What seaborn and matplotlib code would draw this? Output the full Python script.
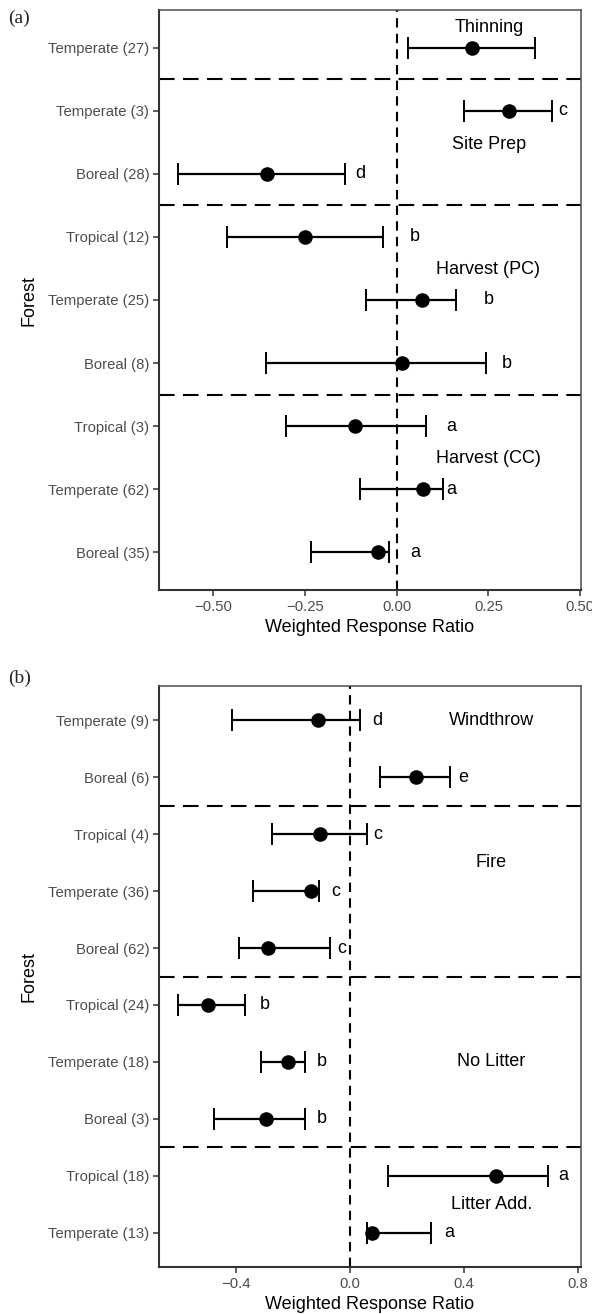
import numpy as np
import pandas as pd
import matplotlib
matplotlib.use("Agg")
import matplotlib.pyplot as plt
import seaborn as sns

sns.set_theme(style="white")
plt.rcParams["font.family"] = ["Liberation Sans", "DejaVu Sans"]

# ---- Panel (a): management disturbances ----
a_forest = ["Temperate (27)", "Temperate (3)", "Boreal (28)",
            "Tropical (12)", "Temperate (25)", "Boreal (8)",
            "Tropical (3)", "Temperate (62)", "Boreal (35)"]
a_mean = [0.204, 0.305, -0.354, -0.250, 0.068, 0.015, -0.114, 0.071, -0.051]
a_lo = [0.030, 0.184, -0.596, -0.461, -0.084, -0.355, -0.301, -0.099, -0.234]
a_hi = [0.378, 0.423, -0.140, -0.037, 0.163, 0.242, 0.080, 0.126, -0.020]
a_letter = ["", "c", "d", "b", "b", "b", "a", "a", "a"]
a_letter_x = [np.nan, 0.452, -0.099, 0.050, 0.250, 0.299, 0.150, 0.150, 0.050]
a_groups = ["Thinning", "Site Prep", "Harvest (PC)", "Harvest (CC)"]
a_group_x = [0.253, 0.253, 0.250, 0.250]
a_group_y = [-0.33, 1.54, 3.52, 6.52]
a_breaks = [0.5, 2.5, 5.5]
a_ticks = [-0.50, -0.25, 0.00, 0.25, 0.50]
a_xlim = (-0.647, 0.502)

# ---- Panel (b): natural disturbances and litter treatments ----
b_forest = ["Temperate (9)", "Boreal (6)", "Tropical (4)", "Temperate (36)",
            "Boreal (62)", "Tropical (24)", "Temperate (18)", "Boreal (3)",
            "Tropical (18)", "Temperate (13)"]
b_mean = [-0.112, 0.231, -0.106, -0.138, -0.288, -0.501, -0.219, -0.294, 0.514, 0.076]
b_lo = [-0.417, 0.105, -0.274, -0.343, -0.389, -0.606, -0.314, -0.478, 0.132, 0.058]
b_hi = [0.036, 0.353, 0.061, -0.110, -0.070, -0.371, -0.159, -0.157, 0.695, 0.284]
b_letter = ["d", "e", "c", "c", "c", "b", "b", "b", "a", "a"]
b_letter_x = [0.094, 0.397, 0.098, -0.052, -0.028, -0.300, -0.101, -0.101, 0.750, 0.348]
b_groups = ["Windthrow", "Fire", "No Litter", "Litter Add."]
b_group_x = [0.497, 0.497, 0.497, 0.497]
b_group_y = [0.0, 2.5, 6.0, 8.5]
b_breaks = [1.5, 4.5, 7.5]
b_ticks = [-0.4, 0.0, 0.4, 0.8]
b_xlim = (-0.672, 0.812)

W, H = 592, 1314
fig = plt.figure(figsize=(W / 100, H / 100), dpi=100)

AX_LEFT, AX_RIGHT = 159, 581
ax_a = fig.add_axes([AX_LEFT / W, 1 - 590 / H, (AX_RIGHT - AX_LEFT) / W, 580 / H])
ax_b = fig.add_axes([AX_LEFT / W, 1 - 1267 / H, (AX_RIGHT - AX_LEFT) / W, 581 / H])


def fmt_tick(v, nd):
    s = f"{v:.{nd}f}"
    return s.replace("-", "\u2212")


def forest_panel(ax, forest, mean, lo, hi, letters, letter_x,
                 groups, gx, gy, breaks, ticks, xlim, nd):
    df = pd.DataFrame({"forest": forest, "mean": mean, "lo": lo, "hi": hi,
                       "letter": letters, "lx": letter_x})
    df["pos"] = np.arange(len(df))

    ax.errorbar(df["mean"], df["pos"],
                xerr=[df["mean"] - df["lo"], df["hi"] - df["mean"]],
                fmt="none", ecolor="black", elinewidth=1.6,
                capsize=8, capthick=1.4, zorder=3)
    sns.scatterplot(data=df, x="mean", y="pos", ax=ax, color="black",
                    s=110, edgecolor="black", linewidth=0, zorder=4,
                    legend=False)

    for _, r in df.iterrows():
        if r["letter"]:
            ax.text(r["lx"], r["pos"], r["letter"], ha="center", va="center",
                    fontsize=13, color="black", zorder=5)
    for g, x, y in zip(groups, gx, gy):
        ax.text(x, y, g, ha="center", va="center", fontsize=13,
                color="black", zorder=5)

    for b in breaks:
        ax.axhline(b, color="black", linestyle=(0, (7.5, 4)), linewidth=1.5,
                   zorder=2)
    ax.axvline(0, color="black", linestyle=(0, (4.5, 3)), linewidth=1.5,
               zorder=2)

    n = len(df)
    ax.set_ylim(n - 1 + 0.6, -0.6)
    ax.set_xlim(*xlim)
    ax.set_yticks(df["pos"])
    ax.set_yticklabels(df["forest"])
    ax.set_xticks(ticks)
    ax.set_xticklabels([fmt_tick(t, nd) for t in ticks])
    ax.tick_params(axis="both", which="both", length=4, width=1.1,
                   color="#333333", labelcolor="#4D4D4D", labelsize=10.7,
                   direction="out", left=True, bottom=True, pad=3)
    ax.set_xlabel("Weighted Response Ratio", fontsize=13, color="black",
                  labelpad=4)
    ax.set_ylabel("Forest", fontsize=13, color="black", labelpad=8)
    for sp in ax.spines.values():
        sp.set_visible(True)
        sp.set_color("#4D4D4D")
        sp.set_linewidth(1.1)
    ax.spines["left"].set_linewidth(1.5)
    ax.spines["bottom"].set_linewidth(1.5)
    ax.spines["left"].set_color("#333333")
    ax.spines["bottom"].set_color("#333333")
    ax.grid(False)
    ax.set_facecolor("white")


forest_panel(ax_a, a_forest, a_mean, a_lo, a_hi, a_letter, a_letter_x,
             a_groups, a_group_x, a_group_y, a_breaks, a_ticks, a_xlim, 2)
forest_panel(ax_b, b_forest, b_mean, b_lo, b_hi, b_letter, b_letter_x,
             b_groups, b_group_x, b_group_y, b_breaks, b_ticks, b_xlim, 1)

fig.text(8 / W, 1 - 18 / H, "(a)", fontsize=14, family="Liberation Serif",
         ha="left", va="center")
fig.text(8 / W, 1 - 678 / H, "(b)", fontsize=14, family="Liberation Serif",
         ha="left", va="center")

fig.savefig("out.png", dpi=100, facecolor="white")
